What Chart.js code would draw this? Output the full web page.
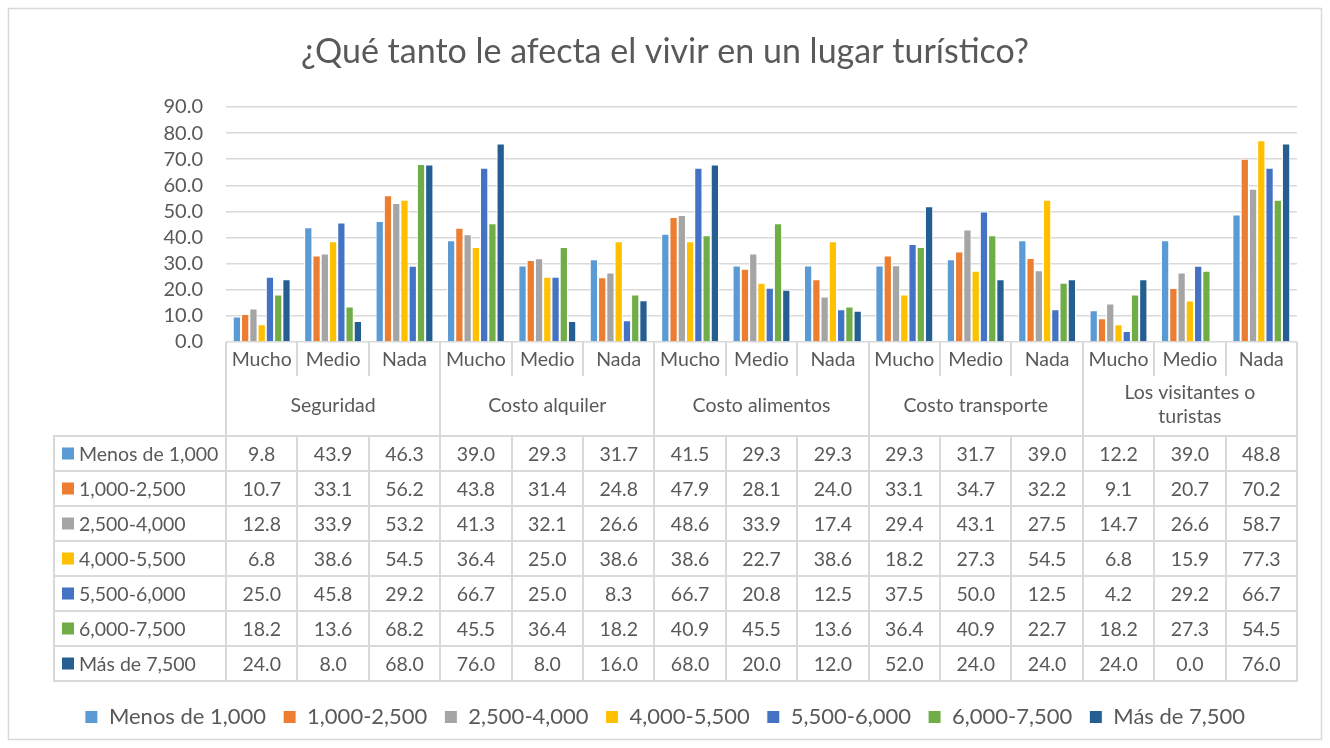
<!DOCTYPE html>
<html>
<head>
<meta charset="utf-8">
<script src="https://cdn.jsdelivr.net/npm/chart.js@4.4.1/dist/chart.umd.min.js"></script>
<style>
  html, body { margin: 0; padding: 0; background: #fff; }
  #wrap { width: 1330px; height: 748px; }
</style>
</head>
<body>
<div id="wrap"><canvas id="bar-chart" width="1330" height="748"></canvas></div>
<script>
// categories
const levels = ["Mucho", "Medio", "Nada"];
const groups = ["Seguridad", "Costo alquiler", "Costo alimentos", "Costo transporte", ["Los visitantes o", "turistas"]];
const categoryLabels = groups.flatMap(() => levels);

// series (same order as the data table)
const seriesNames = ["Menos de 1,000", "1,000-2,500", "2,500-4,000", "4,000-5,500", "5,500-6,000", "6,000-7,500", "Más de 7,500"];
const seriesColors = ["#5B9BD5", "#ED7D31", "#A5A5A5", "#FFC000", "#4472C4", "#70AD47", "#255E91"];

const menosDe1000 = [9.8, 43.9, 46.3, 39.0, 29.3, 31.7, 41.5, 29.3, 29.3, 29.3, 31.7, 39.0, 12.2, 39.0, 48.8];
const de1000a2500 = [10.7, 33.1, 56.2, 43.8, 31.4, 24.8, 47.9, 28.1, 24.0, 33.1, 34.7, 32.2, 9.1, 20.7, 70.2];
const de2500a4000 = [12.8, 33.9, 53.2, 41.3, 32.1, 26.6, 48.6, 33.9, 17.4, 29.4, 43.1, 27.5, 14.7, 26.6, 58.7];
const de4000a5500 = [6.8, 38.6, 54.5, 36.4, 25.0, 38.6, 38.6, 22.7, 38.6, 18.2, 27.3, 54.5, 6.8, 15.9, 77.3];
const de5500a6000 = [25.0, 45.8, 29.2, 66.7, 25.0, 8.3, 66.7, 20.8, 12.5, 37.5, 50.0, 12.5, 4.2, 29.2, 66.7];
const de6000a7500 = [18.2, 13.6, 68.2, 45.5, 36.4, 18.2, 40.9, 45.5, 13.6, 36.4, 40.9, 22.7, 18.2, 27.3, 54.5];
const masDe7500 = [24.0, 8.0, 68.0, 76.0, 8.0, 16.0, 68.0, 20.0, 12.0, 52.0, 24.0, 24.0, 24.0, 0.0, 76.0];
const seriesData = [menosDe1000, de1000a2500, de2500a4000, de4000a5500, de5500a6000, de6000a7500, masDe7500];

// y axis tick values
const yTickValues = [0, 10, 20, 30, 40, 50, 60, 70, 80, 90];

const textColor = "#595959";
const lineColor = "#d9d9d9";
const fontFamily = "Lato";

Chart.defaults.font.family = fontFamily;
Chart.defaults.color = textColor;

// outer frame + the category rows and data table under the plot
const tablePlugin = {
  id: "dataTable",
  beforeDraw(chart) {
    const ctx = chart.ctx;
    ctx.save();
    ctx.fillStyle = "#ffffff";
    ctx.fillRect(0, 0, chart.width, chart.height);
    ctx.strokeStyle = lineColor;
    ctx.lineWidth = 1.5;
    ctx.strokeRect(8.5, 8.5, chart.width - 17, chart.height - 17);
    ctx.restore();
  },
  afterDraw(chart) {
    const ctx = chart.ctx;
    const area = chart.chartArea;
    const xs = chart.scales.x;
    const n = categoryLabels.length;
    const colW = (area.right - area.left) / n;
    const edge = i => xs.getPixelForValue(i) - colW / 2;
    const top = area.bottom;
    const labelBottom = top + 34;
    const tableTop = top + 94;
    const rowH = 35;
    const tableLeft = 54;
    const tableBottom = tableTop + rowH * seriesData.length;

    ctx.save();
    ctx.strokeStyle = lineColor;
    ctx.lineWidth = 2;
    ctx.beginPath();
    for (let i = 0; i <= n; i++) {
      const x = Math.round(edge(i));
      const isGroup = i % levels.length === 0;
      ctx.moveTo(x, top);
      ctx.lineTo(x, isGroup ? tableBottom : labelBottom);
      if (!isGroup) {
        ctx.moveTo(x, tableTop);
        ctx.lineTo(x, tableBottom);
      }
    }
    ctx.moveTo(tableLeft, tableTop);
    ctx.lineTo(tableLeft, tableBottom);
    for (let r = 0; r <= seriesData.length; r++) {
      const y = tableTop + r * rowH;
      ctx.moveTo(tableLeft - 1, y);
      ctx.lineTo(Math.round(area.right) + 1, y);
    }
    ctx.stroke();

    ctx.fillStyle = textColor;
    ctx.font = "19.5px " + fontFamily;
    ctx.textAlign = "center";
    ctx.textBaseline = "middle";

    // level labels
    categoryLabels.forEach((lab, i) => {
      ctx.fillText(lab, xs.getPixelForValue(i), top + 18);
    });
    // group labels
    groups.forEach((g, gi) => {
      const cx = (edge(gi * levels.length) + edge((gi + 1) * levels.length)) / 2;
      if (Array.isArray(g)) {
        ctx.fillText(g[0], cx, top + 51);
        ctx.fillText(g[1], cx, top + 75);
      } else {
        ctx.fillText(g, cx, top + 64);
      }
    });

    // table rows
    seriesData.forEach((vals, r) => {
      const yc = tableTop + r * rowH + rowH / 2;
      ctx.fillStyle = seriesColors[r];
      ctx.fillRect(62, yc - 6, 12, 12);
      ctx.fillStyle = textColor;
      ctx.textAlign = "left";
      ctx.fillText(seriesNames[r], 79, yc + 1);
      ctx.textAlign = "center";
      vals.forEach((v, i) => {
        ctx.fillText(v.toFixed(1), xs.getPixelForValue(i), yc + 1);
      });
    });
    ctx.restore();
  }
};

const data = {
  labels: categoryLabels,
  datasets: seriesData.map((vals, i) => ({
    label: seriesNames[i],
    data: vals,
    backgroundColor: seriesColors[i],
    borderColor: "#ffffff",
    borderWidth: 1,
    categoryPercentage: 0.81,
    barPercentage: 1.0
  }))
};

const config = {
  type: "bar",
  data,
  options: {
    responsive: false,
    animation: false,
    devicePixelRatio: 1,
    layout: { padding: { left: 33, right: 33, top: 0, bottom: 10 } },
    scales: {
      x: {
        afterFit: s => { s.height = 347; },
        grid: { display: false },
        border: { display: false },
        ticks: { display: false }
      },
      y: {
        min: 0,
        max: 90,
        afterFit: s => { s.width = 193; },
        afterBuildTicks: s => { s.ticks = yTickValues.map(v => ({ value: v })); },
        grid: { color: lineColor, lineWidth: 1.5, drawTicks: false },
        border: { display: false },
        ticks: {
          autoSkip: false,
          padding: 23,
          color: textColor,
          font: { size: 20 },
          callback: v => Number(v).toFixed(1)
        }
      }
    },
    plugins: {
      title: {
        display: true,
        text: "¿Qué tanto le afecta el vivir en un lugar turístico?",
        color: textColor,
        font: { size: 34, weight: "normal" },
        padding: { top: 31.6, bottom: 34.6 }
      },
      legend: {
        position: "bottom",
        labels: {
          boxWidth: 13,
          boxHeight: 13,
          padding: 17,
          color: textColor,
          font: { size: 22 }
        }
      },
      tooltip: { enabled: false }
    }
  },
  plugins: [tablePlugin]
};

const chart = new Chart(document.getElementById("bar-chart").getContext("2d"), config);
</script>
</body>
</html>
